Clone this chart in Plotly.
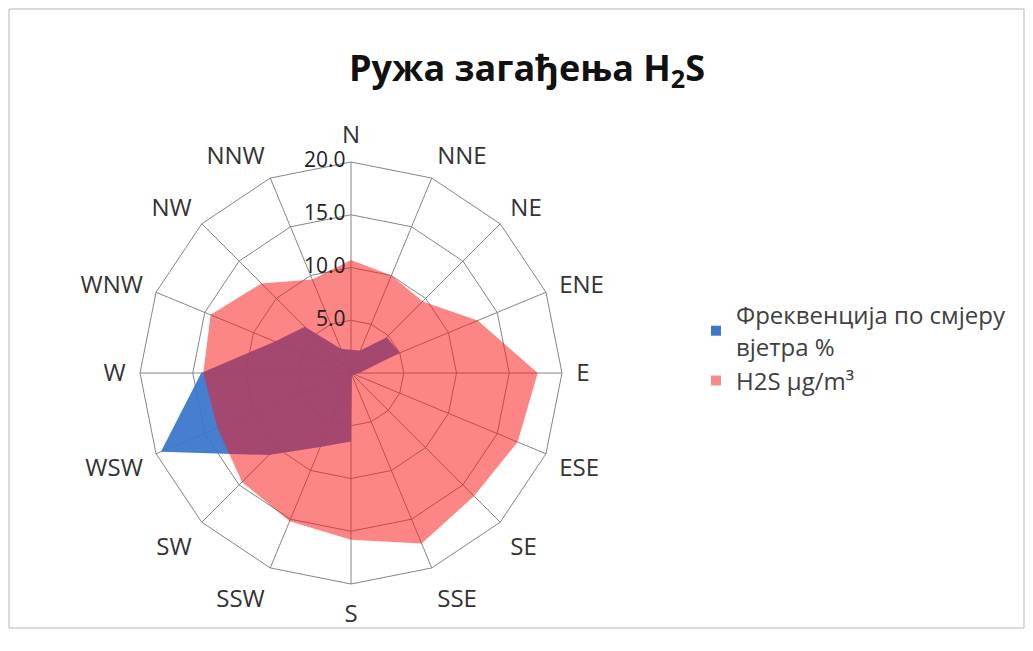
import plotly.graph_objects as go

directions = ["N", "NNE", "NE", "ENE", "E", "ESE", "SE", "SSE",
              "S", "SSW", "SW", "WSW", "W", "WNW", "NW", "NNW"]

# frequency of wind direction, %
frekvencija = [2.2, 2.3, 4.8, 5.0, 0.8, 0.4, 0.3, 0.2,
               6.5, 7.6, 11.0, 19.5, 14.2, 7.8, 6.2, 2.5]

# H2S concentration, ug/m3
h2s = [10.7, 10.0, 9.6, 13.0, 17.7, 17.1, 16.5, 17.5,
       15.8, 15.2, 14.6, 13.7, 14.0, 14.4, 12.0, 9.6]

radial_ticks = [0, 5, 10, 15, 20]
radial_labels = ["0.0", "5.0", "10.0", "15.0", "20.0"]

name_freq = "Фреквенција по смјеру<br>вјетра %"
name_h2s = "H2S µg/m³"
blue = "#3b78cc"

# the page body has an 8px margin, so the figure is a bit smaller
OFF = 8
W, H = 1033 - 2 * OFF, 651 - 2 * OFF


def fx(x):
    return (x - OFF) / W


def fy(y):
    return 1 - (y - OFF) / H


# polar area in screen pixels (centre 351,373 ; radius 211)
cx, cy, rad = 351, 373, 211

fig = go.Figure()

theta = directions + directions[:1]

fig.add_trace(go.Scatterpolar(
    r=frekvencija + frekvencija[:1], theta=theta,
    name=name_freq, showlegend=False,
    mode="lines", line=dict(width=0, color=blue),
    fill="toself", fillcolor="rgba(56,116,204,0.93)",
))
fig.add_trace(go.Scatterpolar(
    r=h2s + h2s[:1], theta=theta,
    name=name_h2s, showlegend=False,
    mode="lines", line=dict(width=0, color="#f88080"),
    fill="toself", fillcolor="rgba(250,24,24,0.53)",
))

# radial tick labels, horizontal and left of the north spoke
fig.add_trace(go.Scatterpolar(
    r=radial_ticks, theta=["N"] * len(radial_ticks),
    mode="text", text=[t + "\u00a0" for t in radial_labels],
    textposition="middle left",
    textfont=dict(size=21, color="#222222"),
    showlegend=False, hoverinfo="skip",
))

# square legend keys, like the original
fig.add_trace(go.Scatterpolar(
    r=[None], theta=[None], name=name_freq, mode="markers",
    marker=dict(symbol="square", size=10, color=blue),
))
fig.add_trace(go.Scatterpolar(
    r=[None], theta=[None], name=name_h2s, mode="markers",
    marker=dict(symbol="square", size=10, color="#f78a8a"),
))

fig.update_layout(
    width=W, height=H,
    margin=dict(l=0, r=0, t=0, b=0),
    paper_bgcolor="white",
    font=dict(family="Open Sans, Noto Sans, sans-serif", color="#404040"),
    title=dict(
        text="<b>Ружа загађења H<sub>2</sub>S</b>",
        x=fx(527), xanchor="center",
        y=fy(68), yanchor="middle",
        font=dict(size=36, color="#111111"),
    ),
    showlegend=True,
    legend=dict(
        x=fx(696), xanchor="left",
        y=fy(293), yanchor="top",
        font=dict(size=24, color="#404040"),
        tracegroupgap=2,
        bgcolor="rgba(0,0,0,0)",
    ),
    polar=dict(
        domain=dict(x=[fx(cx - rad), fx(cx + rad)],
                    y=[fy(cy + rad), fy(cy - rad)]),
        bgcolor="white",
        gridshape="linear",
        radialaxis=dict(
            range=[0, 20],
            tickvals=radial_ticks,
            showticklabels=False,
            angle=90,
            showline=False,
            ticks="",
            gridcolor="#858585",
            gridwidth=1,
            layer="below traces",
        ),
        angularaxis=dict(
            direction="clockwise",
            rotation=90,
            categoryarray=directions,
            categoryorder="array",
            showline=True,
            linecolor="#858585",
            linewidth=1,
            gridcolor="#858585",
            gridwidth=1,
            # invisible ticks just push the direction labels outwards
            ticks="outside",
            ticklen=9,
            tickcolor="rgba(0,0,0,0)",
            layer="below traces",
            tickfont=dict(size=24, color="#333333"),
        ),
    ),
    shapes=[dict(
        type="rect", xref="paper", yref="paper",
        x0=fx(9), x1=fx(1024), y0=fy(628), y1=fy(9),
        line=dict(color="#b5b5b5", width=1),
    )],
)

fig.write_html("out.html")
